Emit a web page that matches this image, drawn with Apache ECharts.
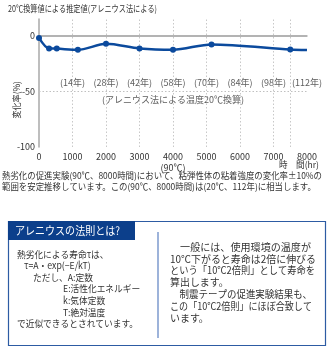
<!DOCTYPE html>
<html><head><meta charset="utf-8">
<script src="https://cdn.jsdelivr.net/npm/echarts@6/dist/echarts.min.js"></script>
<style>html,body{margin:0;padding:0;background:#fff}#c{width:329px;height:350px}</style>
</head><body><div id="c"></div>
<script>
const hours = [0, 300, 530, 1160, 2000, 3000, 4000, 5150, 7500, 8000];
const changeRate = [-2, -11.5, -11.6, -12.7, -7.3, -11.4, -12.6, -7.8, -12.3, -12.9];
const markerShown = [1, 1, 1, 1, 1, 1, 1, 1, 1, 0];
const yearHours = [1000, 2000, 3000, 4000, 5000, 6000, 7000, 8000];
const yearLabels = ['(14年)', '(28年)', '(42年)', '(58年)', '(70年)', '(84年)', '(98年)', '(112年)'];
const gridHours = [1000, 2000, 3000, 4000, 5000, 6000, 7000, 7500];
const yTicks = [-100, -50, 0];
const xTickExtra = {4000: '(90℃)'};
const titleText = '20℃換算値による推定値(アレニウス法による)';
const yName = '変化率(%)';
const xName = '時　間(hr)';
const noteText = '(アレニウス法による温度20℃換算)';
const para1 = '熱劣化の促進実験(90℃、8000時間)において、粘弾性体の粘着強度の変化率±10%の';
const para2 = '範囲を安定推移しています。この(90℃、8000時間)は(20℃、112年)に相当します。';
const boxTitle = 'アレニウスの法則とは?';
const leftLines = ['熱劣化による寿命τは、', 'τ=A・exp(−E/kT)', 'ただし、A:定数', 'E:活性化エネルギー', 'k:気体定数', 'T:絶対温度', 'で近似できるとされています。'];
const rightLines = ['　一般には、使用環境の温度が', '10℃下がると寿命は2倍に伸びる', 'という「10℃2倍則」として寿命を', '算出します。', '　制震テープの促進実験結果も、', 'この「10℃2倍則」にほぼ合致して', 'います。'];

const FF = '"Noto Sans CJK JP", "Noto Sans", sans-serif';
const TXT = '#333';
const mctx = document.createElement('canvas').getContext('2d');
function measure(t, size) { mctx.font = size + 'px ' + FF; return mctx.measureText(t).width; }
function fitScale(t, size, target) { return target / measure(t, size); }

const chart = echarts.init(document.getElementById('c'), null, {renderer: 'canvas'});

const lineData = hours.map((h, i) => ({value: [h, changeRate[i]], symbol: markerShown[i] ? 'circle' : 'none'}));
const yearData = yearHours.map((h, i) => ({value: [h, -42], label: {formatter: yearLabels[i]}}));

function txt(t, x, y, size, sx, fill) {
  return {type: 'text', x: x, y: y, scaleX: sx, style: {text: t, x: 0, y: 0, font: size + 'px ' + FF, fill: fill || TXT, verticalAlign: 'middle'}};
}

const sTitle = fitScale(titleText, 9, 149);
const sPara = fitScale(para1, 9, 320);
const sLeft = fitScale(leftLines[6], 9.5, 121);
const sRightBase = fitScale(rightLines[1], 10, 146);
const rightEnds = [311, 316, 315, null, 312, 312, null];
const sBox = fitScale(boxTitle, 11, 105);

const leftIndent = [17, 24, 33, 63, 63, 63, 17];
const graphics = [
  txt(titleText, 8, 9, 9, sTitle),
  txt(xName, 279, 165, 9, 0.95),
  txt(para1, 2, 176, 9, sPara),
  txt(para2, 2, 187, 9, sPara),
  {type: 'text', x: 17, y: 100, rotation: Math.PI / 2, scaleX: 0.9,
   style: {text: yName, x: 0, y: 0, font: '9px ' + FF, fill: TXT, align: 'center', verticalAlign: 'middle'}},
  {type: 'rect', shape: {x: 8.5, y: 221.5, width: 317, height: 124}, style: {fill: 'none', stroke: '#2d5ba3', lineWidth: 1.2}},
  {type: 'rect', shape: {x: 8, y: 221, width: 127, height: 19}, style: {fill: '#0c3f8b'}},
  txt(boxTitle, 15, 231, 11, sBox, '#fff'),
  {type: 'line', shape: {x1: 158, y1: 232, x2: 158, y2: 338}, style: {stroke: '#9db3da', lineWidth: 2}}
];
leftLines.forEach((t, i) => graphics.push(txt(t, leftIndent[i], 254 + i * 11.6, 9.5, sLeft)));
rightLines.forEach((t, i) => {
  const s = rightEnds[i] ? fitScale(t, 10, rightEnds[i] - 170) : sRightBase;
  graphics.push(txt(t, 170, 247 + i * 11.8, 10, s));
});

chart.setOption({
  animation: false,
  textStyle: {fontFamily: FF},
  grid: {left: 39, right: 22, top: 19, bottom: 203, containLabel: false, outerBoundsMode: 'none'},
  xAxis: {
    type: 'value', min: 0, max: 8000, interval: 1000,
    axisLine: {show: true, lineStyle: {color: '#a8a8a8', width: 1.5}},
    axisTick: {show: false},
    splitLine: {show: false},
    axisLabel: {color: TXT, fontSize: 9, margin: 4, lineHeight: 11, formatter: v => xTickExtra[v] ? v + '\n' + xTickExtra[v] : String(v)}
  },
  yAxis: {
    type: 'value', min: -100, max: 15, interval: 50,
    axisLine: {show: true, onZero: false, lineStyle: {color: '#a8a8a8', width: 1.5}},
    axisTick: {show: false},
    splitLine: {show: false},
    axisLabel: {color: TXT, fontSize: 9, margin: 4, formatter: v => yTicks.includes(v) ? String(v) : ''}
  },
  series: [
    {
      type: 'line', data: lineData, smooth: 0.3, symbolSize: 6,
      lineStyle: {color: '#0b4a9d', width: 2.5}, itemStyle: {color: '#0b4a9d'},
      z: 5,
      markLine: {
        silent: true, symbol: 'none', label: {show: false},
        data: gridHours.map(h => ({xAxis: h, lineStyle: {color: '#c8c8c8', type: [1.5, 2], width: 1}}))
          .concat([{yAxis: 0, lineStyle: {color: '#b0b0b0', type: 'solid', width: 1.5}},
                   {yAxis: -50, lineStyle: {color: '#c0c0c0', type: [1.5, 2], width: 1}}])
      }
    },
    {
      type: 'scatter', data: yearData, symbolSize: 0, silent: true,
      label: {show: true, position: 'inside', color: TXT, fontSize: 9}
    },
    {
      type: 'scatter', data: [{value: [4000, -57]}], symbolSize: 0, silent: true,
      label: {show: true, position: 'inside', color: TXT, fontSize: 9, formatter: noteText}
    }
  ],
  graphic: graphics
});
</script></body></html>
